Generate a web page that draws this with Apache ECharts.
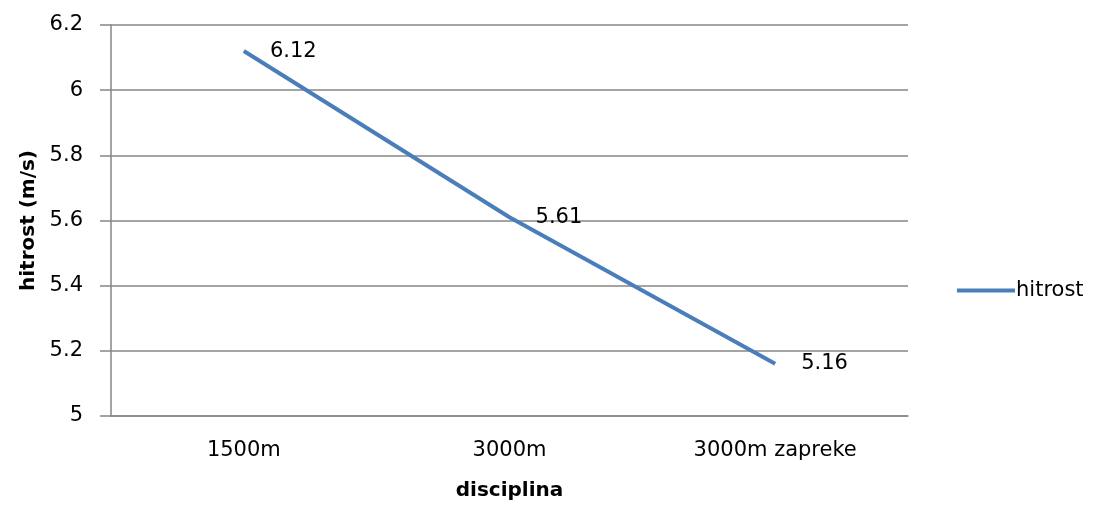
<!DOCTYPE html>
<html>
<head>
<meta charset="utf-8">
<script src="https://cdn.jsdelivr.net/npm/echarts@6/dist/echarts.min.js"></script>
<style>
  html, body { margin: 0; padding: 0; background: #fff; overflow: hidden; }
  #chart { width: 100vw; height: 100vh; }
</style>
</head>
<body>
<div id="chart"></div>
<script>
// Running speed per discipline
const categories = ['1500m', '3000m', '3000m zapreke'];
const speeds = [6.12, 5.61, 5.16];
const yTicks = { min: 5, max: 6.2, step: 0.2 };
const seriesName = 'hitrost';

const FONT = '"DejaVu Sans", "Noto Sans", sans-serif';
const GRID_COLOR = '#868686';
const LINE_COLOR = '#4a7ebb';
const FS = 21;

const chart = echarts.init(document.getElementById('chart'), null, { renderer: 'canvas' });

// Layout is designed for a 1093 x 506 canvas and scaled to the actual size.
const kx = chart.getWidth() / 1093;
const ky = chart.getHeight() / 506;

chart.setOption({
  animation: false,
  backgroundColor: '#ffffff',
  textStyle: { fontFamily: FONT },
  grid: { left: 111 * kx, right: 185 * kx, top: 25 * ky, bottom: 85 * ky, containLabel: false },
  legend: {
    data: [{ name: seriesName, icon: 'rect' }],
    orient: 'vertical',
    left: 952 * kx,
    top: 275 * ky,
    itemWidth: 58,
    itemHeight: 4,
    itemGap: 0,
    textStyle: { fontFamily: FONT, fontSize: FS, color: '#000', padding: [0, 0, 0, -4] }
  },
  xAxis: {
    type: 'category',
    data: categories,
    boundaryGap: true,
    name: 'disciplina',
    nameLocation: 'middle',
    nameGap: 65 * ky,
    nameTextStyle: { fontFamily: FONT, fontSize: 20, fontWeight: 'bold', color: '#000' },
    axisLine: { show: true, lineStyle: { color: GRID_COLOR, width: 1.5 } },
    axisTick: { show: false },
    axisLabel: { fontFamily: FONT, fontSize: FS, color: '#000', margin: 24 * ky },
    splitLine: { show: false }
  },
  yAxis: {
    type: 'value',
    min: yTicks.min,
    max: yTicks.max,
    interval: yTicks.step,
    name: 'hitrost (m/s)',
    nameLocation: 'middle',
    nameGap: 71 * kx,
    nameRotate: 90,
    nameTextStyle: { fontFamily: FONT, fontSize: 20, fontWeight: 'bold', color: '#000' },
    axisLine: { show: true, lineStyle: { color: GRID_COLOR, width: 1.5 } },
    axisTick: { show: true, length: 11, lineStyle: { color: GRID_COLOR, width: 1.5 } },
    axisLabel: {
      fontFamily: FONT, fontSize: FS, color: '#000', margin: 28 * kx,
      formatter: v => String(parseFloat(v.toFixed(1)))
    },
    splitLine: { show: true, lineStyle: { color: GRID_COLOR, width: 1.5 } }
  },
  series: [{
    name: seriesName,
    type: 'line',
    data: speeds,
    symbol: 'circle',
    symbolSize: 0.1,
    showSymbol: true,
    lineStyle: { color: LINE_COLOR, width: 4 },
    itemStyle: { color: LINE_COLOR },
    label: {
      show: true,
      position: 'right',
      distance: 26,
      fontFamily: FONT,
      fontSize: FS,
      color: '#000',
      formatter: p => p.value.toFixed(2)
    }
  }]
});
</script>
</body>
</html>
